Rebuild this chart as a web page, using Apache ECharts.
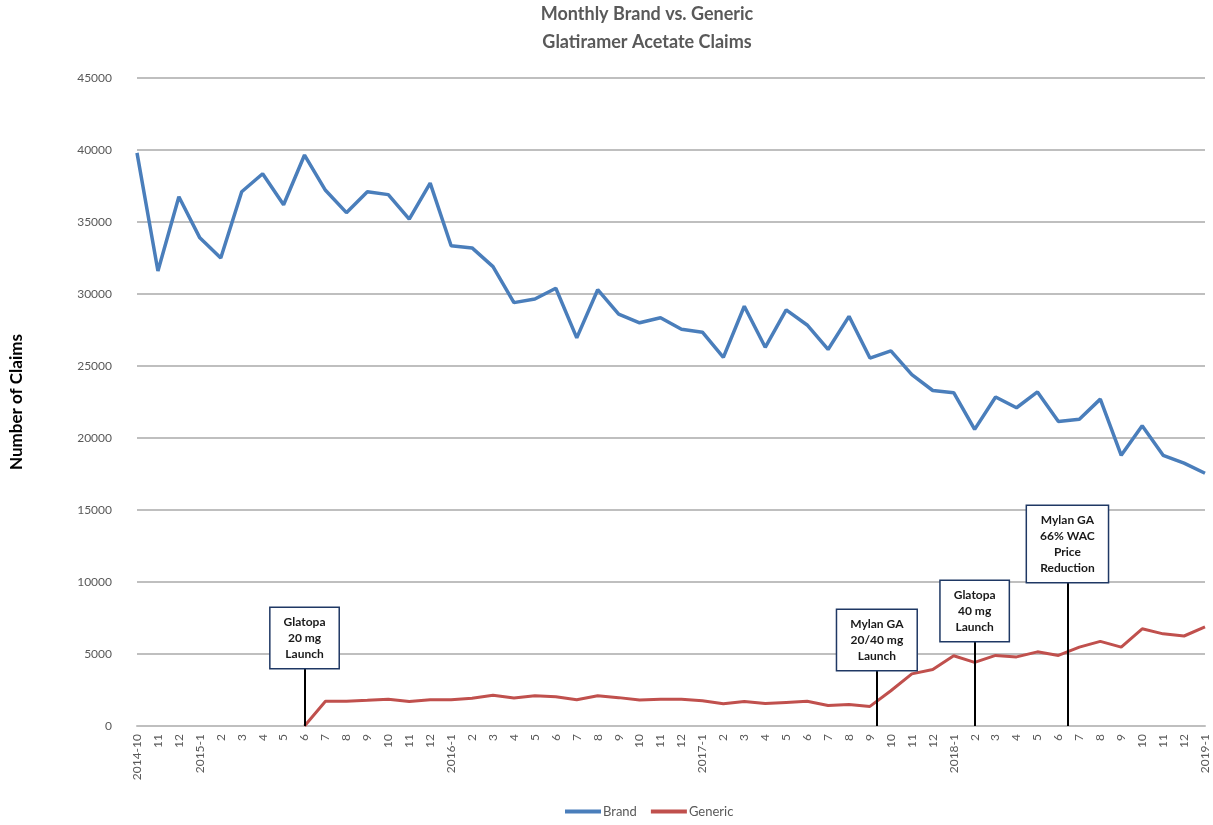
<!DOCTYPE html>
<html>
<head>
<meta charset="utf-8">
<title>Monthly Brand vs. Generic Glatiramer Acetate Claims</title>
<script src="https://cdn.jsdelivr.net/npm/echarts@6/dist/echarts.min.js"></script>
<style>
  html, body { margin: 0; padding: 0; background: #fff; }
  #chart { width: 1213px; height: 825px; }
</style>
</head>
<body>
<div id="chart"></div>
<script>
// Month labels, Oct 2014 through Jan 2019
const months = [
  '2014-10', '11', '12',
  '2015-1', '2', '3', '4', '5', '6', '7', '8', '9', '10', '11', '12',
  '2016-1', '2', '3', '4', '5', '6', '7', '8', '9', '10', '11', '12',
  '2017-1', '2', '3', '4', '5', '6', '7', '8', '9', '10', '11', '12',
  '2018-1', '2', '3', '4', '5', '6', '7', '8', '9', '10', '11', '12',
  '2019-1'
];

// Monthly brand claims
const brand = [
  39800, 31600, 36750,
  33900, 32500, 37100, 38350, 36200, 39650, 37200, 35650, 37100, 36900, 35200, 37700,
  33350, 33200, 31900, 29400, 29650, 30400, 26950, 30300, 28600, 28000, 28350, 27550,
  27350, 25600, 29150, 26300, 28900, 27850, 26150, 28450, 25550, 26050, 24400, 23300,
  23150, 20600, 22850, 22100, 23200, 21150, 21300, 22700, 18800, 20850, 18800, 18250,
  17550
];

// Monthly generic claims (none before the first generic launch)
const generic = [
  null, null, null,
  null, null, null, null, null, 0, 1720, 1720, 1780, 1860, 1700, 1820,
  1820, 1930, 2130, 1950, 2100, 2030, 1820, 2100, 1970, 1800, 1850, 1850,
  1750, 1550, 1700, 1560, 1640, 1720, 1420, 1500, 1360, 2450, 3620, 3930,
  4880, 4420, 4900, 4800, 5150, 4900, 5480, 5880, 5480, 6750, 6400, 6250,
  6880
];

// Market events: label, month position, height of the leader line
const eventNames = [
  'Glatopa\n20 mg\nLaunch',
  'Mylan GA\n20/40 mg\nLaunch',
  'Glatopa\n40 mg\nLaunch',
  'Mylan GA\n66% WAC\nPrice\nReduction'
];
const eventAt = [8, 35.33, 40, 44.43];
const eventTop = [4030, 3890, 5900, 10000];

const yTicks = { min: 0, max: 45000, step: 5000 };

const font = 'Lato, "Open Sans", "Liberation Sans", sans-serif';
const grey = '#595959';

const chart = echarts.init(document.getElementById('chart'), null, { renderer: 'canvas' });

const eventLines = eventNames.map((name, i) => [
  {
    coord: [eventAt[i], 0],
    label: { formatter: name }
  },
  { coord: [eventAt[i], eventTop[i]] }
]);

chart.setOption({
  animation: false,
  backgroundColor: '#ffffff',
  title: {
    text: 'Monthly Brand vs. Generic\nGlatiramer Acetate Claims',
    left: 647,
    top: 0,
    padding: 0,
    textAlign: 'center',
    textStyle: {
      fontFamily: font,
      fontSize: 18,
      fontWeight: 'bold',
      color: grey,
      lineHeight: 28
    }
  },
  grid: { left: 133, right: 8, top: 78, bottom: 99, containLabel: false },
  legend: {
    bottom: 2,
    left: 560,
    itemGap: 14,
    itemWidth: 36,
    itemHeight: 4,
    icon: 'rect',
    textStyle: { fontFamily: font, fontSize: 13, color: grey, padding: [0, 0, 0, -3] },
    data: ['Brand', 'Generic']
  },
  xAxis: {
    type: 'value',
    min: 0,
    max: months.length - 1,
    interval: 1,
    axisLine: { show: true, lineStyle: { color: '#bfbfbf', width: 2 } },
    axisTick: { show: false },
    splitLine: { show: false },
    axisLabel: {
      rotate: 90,
      margin: 8,
      fontFamily: font,
      fontSize: 12,
      color: grey,
      formatter: v => months[v] ?? ''
    }
  },
  yAxis: {
    type: 'value',
    min: yTicks.min,
    max: yTicks.max,
    interval: yTicks.step,
    name: 'Number of Claims',
    nameLocation: 'middle',
    nameGap: 112,
    nameTextStyle: { fontFamily: font, fontSize: 17, fontWeight: 'bold', color: '#000' },
    axisLine: { show: false },
    axisTick: { show: false },
    splitLine: { lineStyle: { color: '#bfbfbf', width: 2 } },
    axisLabel: {
      margin: 25,
      fontFamily: font,
      fontSize: 12,
      color: grey,
      formatter: v => String(v)
    }
  },
  series: [
    {
      name: 'Brand',
      type: 'line',
      data: brand.map((v, i) => [i, v]),
      showSymbol: false,
      symbol: 'none',
      lineStyle: { color: '#4a7ebb', width: 3.5 },
      itemStyle: { color: '#4a7ebb' },
      z: 3
    },
    {
      name: 'Generic',
      type: 'line',
      data: generic.map((v, i) => [i, v]),
      showSymbol: false,
      symbol: 'none',
      connectNulls: false,
      lineStyle: { color: '#c0504d', width: 3 },
      itemStyle: { color: '#c0504d' },
      z: 3,
      markLine: {
        silent: true,
        symbol: ['none', 'none'],
        lineStyle: { color: '#000', width: 2, type: 'solid' },
        label: {
          show: true,
          position: 'end',
          distance: 0,
          fontFamily: font,
          fontSize: 12,
          fontWeight: 'bold',
          color: '#1a1a1a',
          lineHeight: 16,
          align: 'center',
          backgroundColor: '#ffffff',
          borderColor: '#1f3864',
          borderWidth: 1.5,
          padding: [6, 13, 6, 13]
        },
        data: eventLines
      }
    }
  ]
});
</script>
</body>
</html>
